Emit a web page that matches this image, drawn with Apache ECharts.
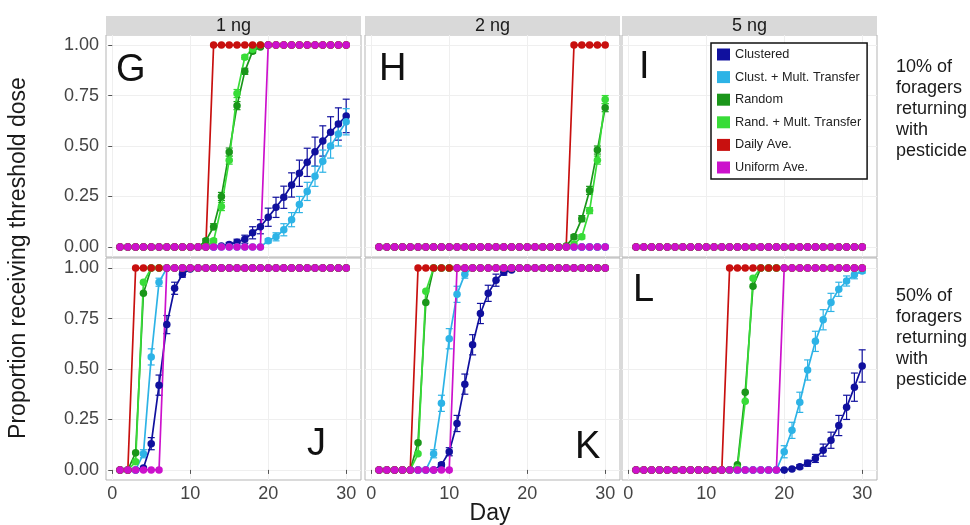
<!DOCTYPE html>
<html>
<head>
<meta charset="utf-8">
<script src="https://cdn.jsdelivr.net/npm/echarts@6/dist/echarts.min.js"></script>
<style>
  html, body { margin: 0; padding: 0; background: #ffffff; }
  #chart { width: 970px; height: 525px; }
</style>
</head>
<body>
<div id="chart"></div>
<script>
// Days simulated in every panel
const days = [1,2,3,4,5,6,7,8,9,10, 11,12,13,14,15,16,17,18,19,20, 21,22,23,24,25,26,27,28,29,30];

const doseLabels = ['1 ng', '2 ng', '5 ng'];
const rowLabels = ['10% of\nforagers\nreturning\nwith\npesticide', '50% of\nforagers\nreturning\nwith\npesticide'];
const panelLetters = ['G', 'H', 'I', 'J', 'K', 'L'];
const seriesNames = ['Clustered', 'Clust. + Mult. Transfer', 'Random', 'Rand. + Mult. Transfer', 'Daily Ave.', 'Uniform Ave.'];
const seriesColors = ['#10109e', '#2db3e6', '#1a961a', '#38dc38', '#c8100f', '#cc11cc'];
const xTicks = [0, 10, 20, 30];
const yTicks = [0, 0.25, 0.5, 0.75, 1];

// ---- 1 ng, 10% of foragers (G)
const G_clustered     = [0,0,0,0,0,0,0,0,0,0, 0,0,0,0.005,0.012,0.023,0.038,0.07,0.10,0.147, 0.196,0.246,0.307,0.365,0.419,0.472,0.525,0.568,0.609,0.649];
const G_clustered_err = [0,0,0,0,0,0,0,0,0,0, 0,0,0,0.005,0.01,0.015,0.02,0.03,0.035,0.045, 0.05,0.055,0.06,0.065,0.07,0.072,0.075,0.077,0.08,0.083];
const G_clustMult     = [0,0,0,0,0,0,0,0,0,0, 0,0,0,0,0,0,0,0,0,0.03, 0.05,0.085,0.135,0.21,0.275,0.35,0.425,0.50,0.56,0.62];
const G_clustMult_err = [0,0,0,0,0,0,0,0,0,0, 0,0,0,0,0,0,0,0,0,0.01, 0.02,0.03,0.035,0.04,0.045,0.05,0.055,0.06,0.06,0.065];
const G_random        = [0,0,0,0,0,0,0,0,0,0, 0,0.03,0.10,0.25,0.47,0.70,0.87,0.97,0.99,1, 1,1,1,1,1,1,1,1,1,1];
const G_random_err    = [0,0,0,0,0,0,0,0,0,0, 0,0.01,0.015,0.02,0.02,0.02,0.015,0.01,0.005,0, 0,0,0,0,0,0,0,0,0,0];
const G_randMult      = [0,0,0,0,0,0,0,0,0,0, 0,0,0.03,0.20,0.43,0.76,0.94,0.98,1,1, 1,1,1,1,1,1,1,1,1,1];
const G_randMult_err  = [0,0,0,0,0,0,0,0,0,0, 0,0,0.01,0.02,0.02,0.02,0.01,0.005,0,0, 0,0,0,0,0,0,0,0,0,0];
const G_daily         = [0,0,0,0,0,0,0,0,0,0, 0,0,1,1,1,1,1,1,1,1, 1,1,1,1,1,1,1,1,1,1];
const G_uniform       = [0,0,0,0,0,0,0,0,0,0, 0,0,0,0,0,0,0,0,0,1, 1,1,1,1,1,1,1,1,1,1];

// ---- 2 ng, 10% of foragers (H)
const H_clustered     = [0,0,0,0,0,0,0,0,0,0, 0,0,0,0,0,0,0,0,0,0, 0,0,0,0,0,0,0,0,0,0];
const H_clustMult     = [0,0,0,0,0,0,0,0,0,0, 0,0,0,0,0,0,0,0,0,0, 0,0,0,0,0,0,0,0,0,0];
const H_random        = [0,0,0,0,0,0,0,0,0,0, 0,0,0,0,0,0,0,0,0,0, 0,0,0,0,0.005,0.05,0.14,0.28,0.48,0.69];
const H_random_err    = [0,0,0,0,0,0,0,0,0,0, 0,0,0,0,0,0,0,0,0,0, 0,0,0,0,0,0.01,0.015,0.02,0.02,0.02];
const H_randMult      = [0,0,0,0,0,0,0,0,0,0, 0,0,0,0,0,0,0,0,0,0, 0,0,0,0,0,0.015,0.05,0.18,0.43,0.73];
const H_randMult_err  = [0,0,0,0,0,0,0,0,0,0, 0,0,0,0,0,0,0,0,0,0, 0,0,0,0,0,0,0.01,0.015,0.02,0.02];
const H_daily         = [0,0,0,0,0,0,0,0,0,0, 0,0,0,0,0,0,0,0,0,0, 0,0,0,0,0,1,1,1,1,1];
const H_uniform       = [0,0,0,0,0,0,0,0,0,0, 0,0,0,0,0,0,0,0,0,0, 0,0,0,0,0,0,0,0,0,0];

// ---- 5 ng, 10% of foragers (I)
const I_clustered     = [0,0,0,0,0,0,0,0,0,0, 0,0,0,0,0,0,0,0,0,0, 0,0,0,0,0,0,0,0,0,0];
const I_clustMult     = [0,0,0,0,0,0,0,0,0,0, 0,0,0,0,0,0,0,0,0,0, 0,0,0,0,0,0,0,0,0,0];
const I_random        = [0,0,0,0,0,0,0,0,0,0, 0,0,0,0,0,0,0,0,0,0, 0,0,0,0,0,0,0,0,0,0];
const I_randMult      = [0,0,0,0,0,0,0,0,0,0, 0,0,0,0,0,0,0,0,0,0, 0,0,0,0,0,0,0,0,0,0];
const I_daily         = [0,0,0,0,0,0,0,0,0,0, 0,0,0,0,0,0,0,0,0,0, 0,0,0,0,0,0,0,0,0,0];
const I_uniform       = [0,0,0,0,0,0,0,0,0,0, 0,0,0,0,0,0,0,0,0,0, 0,0,0,0,0,0,0,0,0,0];

// ---- 1 ng, 50% of foragers (J)
const J_clustered     = [0,0,0,0.01,0.13,0.42,0.72,0.90,0.97,0.995, 1,1,1,1,1,1,1,1,1,1, 1,1,1,1,1,1,1,1,1,1];
const J_clustered_err = [0,0,0,0,0.03,0.05,0.045,0.03,0.015,0.005, 0,0,0,0,0,0,0,0,0,0, 0,0,0,0,0,0,0,0,0,0];
const J_clustMult     = [0,0,0,0.08,0.56,0.93,1,1,1,1, 1,1,1,1,1,1,1,1,1,1, 1,1,1,1,1,1,1,1,1,1];
const J_clustMult_err = [0,0,0,0.02,0.04,0.02,0,0,0,0, 0,0,0,0,0,0,0,0,0,0, 0,0,0,0,0,0,0,0,0,0];
const J_random        = [0,0,0.085,0.875,1,1,1,1,1,1, 1,1,1,1,1,1,1,1,1,1, 1,1,1,1,1,1,1,1,1,1];
const J_randMult      = [0,0,0.04,0.93,1,1,1,1,1,1, 1,1,1,1,1,1,1,1,1,1, 1,1,1,1,1,1,1,1,1,1];
const J_daily         = [0,0,1,1,1,1,1,1,1,1, 1,1,1,1,1,1,1,1,1,1, 1,1,1,1,1,1,1,1,1,1];
const J_uniform       = [0,0,0,0,0,0,1,1,1,1, 1,1,1,1,1,1,1,1,1,1, 1,1,1,1,1,1,1,1,1,1];

// ---- 2 ng, 50% of foragers (K)
const K_clustered     = [0,0,0,0,0,0,0,0,0.025,0.09, 0.23,0.425,0.62,0.775,0.875,0.94,0.98,0.99,1,1, 1,1,1,1,1,1,1,1,1,1];
const K_clustered_err = [0,0,0,0,0,0,0,0,0.01,0.02, 0.04,0.05,0.05,0.05,0.04,0.03,0.015,0.005,0,0, 0,0,0,0,0,0,0,0,0,0];
const K_clustMult     = [0,0,0,0,0,0,0,0.08,0.33,0.65, 0.87,0.97,1,1,1,1,1,1,1,1, 1,1,1,1,1,1,1,1,1,1];
const K_clustMult_err = [0,0,0,0,0,0,0,0.02,0.04,0.05, 0.04,0.02,0,0,0,0,0,0,0,0, 0,0,0,0,0,0,0,0,0,0];
const K_random        = [0,0,0,0,0,0.135,0.83,1,1,1, 1,1,1,1,1,1,1,1,1,1, 1,1,1,1,1,1,1,1,1,1];
const K_randMult      = [0,0,0,0,0,0.08,0.885,1,1,1, 1,1,1,1,1,1,1,1,1,1, 1,1,1,1,1,1,1,1,1,1];
const K_daily         = [0,0,0,0,0,1,1,1,1,1, 1,1,1,1,1,1,1,1,1,1, 1,1,1,1,1,1,1,1,1,1];
const K_uniform       = [0,0,0,0,0,0,0,0,0,0, 1,1,1,1,1,1,1,1,1,1, 1,1,1,1,1,1,1,1,1,1];

// ---- 5 ng, 50% of foragers (L)
const L_clustered     = [0,0,0,0,0,0,0,0,0,0, 0,0,0,0,0,0,0,0,0,0, 0.005,0.016,0.033,0.057,0.098,0.147,0.22,0.31,0.41,0.515];
const L_clustered_err = [0,0,0,0,0,0,0,0,0,0, 0,0,0,0,0,0,0,0,0,0, 0,0.01,0.015,0.02,0.03,0.04,0.05,0.06,0.07,0.08];
const L_clustMult     = [0,0,0,0,0,0,0,0,0,0, 0,0,0,0,0,0,0,0,0,0.09, 0.196,0.335,0.495,0.637,0.744,0.83,0.895,0.936,0.967,0.985];
const L_clustMult_err = [0,0,0,0,0,0,0,0,0,0, 0,0,0,0,0,0,0,0,0,0.03, 0.04,0.05,0.05,0.05,0.05,0.045,0.035,0.025,0.02,0.01];
const L_random        = [0,0,0,0,0,0,0,0,0,0, 0,0,0,0.025,0.385,0.91,1,1,1,1, 1,1,1,1,1,1,1,1,1,1];
const L_randMult      = [0,0,0,0,0,0,0,0,0,0, 0,0,0,0.01,0.34,0.95,1,1,1,1, 1,1,1,1,1,1,1,1,1,1];
const L_daily         = [0,0,0,0,0,0,0,0,0,0, 0,0,1,1,1,1,1,1,1,1, 1,1,1,1,1,1,1,1,1,1];
const L_uniform       = [0,0,0,0,0,0,0,0,0,0, 0,0,0,0,0,0,0,0,0,1, 1,1,1,1,1,1,1,1,1,1];

// Facet panels, row by row
const panels = [
  { values: [G_clustered, G_clustMult, G_random, G_randMult, G_daily, G_uniform],
    errors: [G_clustered_err, G_clustMult_err, G_random_err, G_randMult_err, null, null] },
  { values: [H_clustered, H_clustMult, H_random, H_randMult, H_daily, H_uniform],
    errors: [null, null, H_random_err, H_randMult_err, null, null] },
  { values: [I_clustered, I_clustMult, I_random, I_randMult, I_daily, I_uniform],
    errors: [null, null, null, null, null, null] },
  { values: [J_clustered, J_clustMult, J_random, J_randMult, J_daily, J_uniform],
    errors: [J_clustered_err, J_clustMult_err, null, null, null, null] },
  { values: [K_clustered, K_clustMult, K_random, K_randMult, K_daily, K_uniform],
    errors: [K_clustered_err, K_clustMult_err, null, null, null, null] },
  { values: [L_clustered, L_clustMult, L_random, L_randMult, L_daily, L_uniform],
    errors: [L_clustered_err, L_clustMult_err, null, null, null, null] }
];

// Facet geometry
const FONT = 'Liberation Sans, Arial, sans-serif';
const colLeft = [106, 365, 622];
const rowTop = [35, 258];
const panelW = 255;
const panelH = 222;
const letterPos = [
  { x: 116, y: 71 }, { x: 379, y: 70 }, { x: 639, y: 68 },
  { x: 307, y: 445 }, { x: 575, y: 448 }, { x: 633, y: 291 }
];

const grids = [], xAxes = [], yAxes = [], series = [], graphics = [];

panels.forEach(function (panel, i) {
  const row = Math.floor(i / 3), col = i % 3;
  grids.push({
    left: colLeft[col], top: rowTop[row], width: panelW, height: panelH,
    show: true, backgroundColor: '#ffffff', borderColor: '#b5b5b5', borderWidth: 1
  });
  xAxes.push({
    type: 'value', gridIndex: i, min: -0.8, max: 31.9,
    axisLine: { show: false },
    axisTick: { show: row === 1, customValues: xTicks, length: 4, lineStyle: { color: '#555' } },
    axisLabel: { show: row === 1, customValues: xTicks, fontSize: 18, fontFamily: FONT, color: '#444', margin: 5 },
    splitLine: { show: true, lineStyle: { color: '#efefef', width: 1 } }
  });
  yAxes.push({
    type: 'value', gridIndex: i, min: -0.05, max: 1.05,
    axisLine: { show: false },
    axisTick: { show: col === 0, customValues: yTicks, length: 4, lineStyle: { color: '#555' } },
    axisLabel: { show: col === 0, customValues: yTicks, fontSize: 18, fontFamily: FONT, color: '#444', margin: 7,
      formatter: function (v) { return v.toFixed(2); } },
    splitLine: { show: true, lineStyle: { color: '#efefef', width: 1 } }
  });

  // error bars first so the lines and points sit above them
  panel.errors.forEach(function (err, s) {
    if (!err) return;
    const vals = panel.values[s];
    const data = [];
    days.forEach(function (d, k) {
      if (err[k] > 0) data.push([d, vals[k] - err[k], vals[k] + err[k]]);
    });
    const color = seriesColors[s];
    series.push({
      type: 'custom', xAxisIndex: i, yAxisIndex: i, z: 1, silent: true, clip: true,
      encode: { x: 0, y: [1, 2] },
      data: data,
      renderItem: function (params, api) {
        const x = api.value(0);
        const top = api.coord([x, api.value(2)]);
        const bot = api.coord([x, api.value(1)]);
        const half = 3.5;
        const style = { stroke: color, lineWidth: 1.2, fill: null };
        return {
          type: 'group', children: [
            { type: 'line', shape: { x1: top[0], y1: top[1], x2: bot[0], y2: bot[1] }, style: style },
            { type: 'line', shape: { x1: top[0] - half, y1: top[1], x2: top[0] + half, y2: top[1] }, style: style },
            { type: 'line', shape: { x1: bot[0] - half, y1: bot[1], x2: bot[0] + half, y2: bot[1] }, style: style }
          ]
        };
      }
    });
  });

  panel.values.forEach(function (vals, s) {
    series.push({
      name: seriesNames[s], type: 'line', xAxisIndex: i, yAxisIndex: i, z: 2,
      data: days.map(function (d, k) { return [d, vals[k]]; }),
      symbol: 'circle', symbolSize: 7.5,
      lineStyle: { color: seriesColors[s], width: 1.7 },
      itemStyle: { color: seriesColors[s] },
      emphasis: { disabled: true }
    });
  });

  // panel letter
  graphics.push({
    type: 'text', left: letterPos[i].x, top: letterPos[i].y - 19, z: 10,
    style: { text: panelLetters[i], font: '38px ' + FONT, fill: '#111' }
  });
});

// column strips
doseLabels.forEach(function (label, c) {
  graphics.push({
    type: 'rect', shape: { x: colLeft[c], y: 16, width: panelW, height: 19 },
    style: { fill: '#d9d9d9' }, z: 5
  });
  graphics.push({
    type: 'text', x: colLeft[c] + panelW / 2, y: 26, z: 6,
    style: { text: label, font: '18px ' + FONT, fill: '#1a1a1a', align: 'center', verticalAlign: 'middle' }
  });
});

// row descriptions
rowLabels.forEach(function (label, r) {
  graphics.push({
    type: 'text', x: 896, y: r === 0 ? 57 : 286, z: 6,
    style: { text: label, font: '18px ' + FONT, fill: '#1a1a1a', lineHeight: 20.8, align: 'left', verticalAlign: 'top' }
  });
});

// axis titles
graphics.push({
  type: 'text', x: 490, y: 514, z: 6,
  style: { text: 'Day', font: '23px ' + FONT, fill: '#1a1a1a', align: 'center', verticalAlign: 'middle' }
});
graphics.push({
  type: 'text', x: 19, y: 258, rotation: Math.PI / 2, z: 6,
  style: { text: 'Proportion receiving threshold dose', font: '23px ' + FONT, fill: '#1a1a1a', align: 'center', verticalAlign: 'middle' }
});

const chart = echarts.init(document.getElementById('chart'), null, { renderer: 'canvas' });
chart.setOption({
  animation: false,
  backgroundColor: '#ffffff',
  grid: grids,
  xAxis: xAxes,
  yAxis: yAxes,
  legend: {
    data: seriesNames, orient: 'vertical', left: 711, top: 43, z: 20,
    icon: 'rect', itemWidth: 13, itemHeight: 12, itemGap: 9.6,
    padding: [5, 6, 5, 6],
    backgroundColor: '#ffffff', borderColor: '#111111', borderWidth: 1.5,
    textStyle: { fontSize: 12.7, fontFamily: FONT, color: '#222', lineHeight: 13 },
    selectedMode: false
  },
  graphic: graphics,
  series: series
});
</script>
</body>
</html>
